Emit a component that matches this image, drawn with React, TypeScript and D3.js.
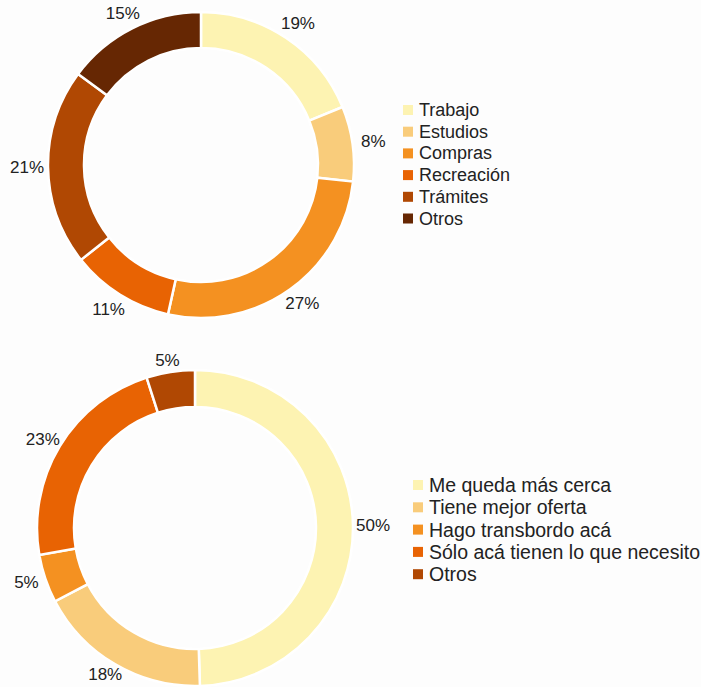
import React from "react";
import * as d3 from "d3";

const motivos = ["Trabajo", "Estudios", "Compras", "Recreación", "Trámites", "Otros"];
const motivosValues = [19, 8, 27, 11, 21, 15];
const motivosColors = ["#fdf3b2", "#f9cc7b", "#f49121", "#e86303", "#b04803", "#662703"];

const razones = ["Me queda más cerca", "Tiene mejor oferta", "Hago transbordo acá", "Sólo acá tienen lo que necesito", "Otros"];
const razonesValues = [50, 18, 5, 23, 5];
const razonesColors = ["#fdf3b2", "#f9cc7b", "#f49121", "#e86303", "#b04803"];

type DonutProps = {
  cx: number; cy: number; inner: number; outer: number; labelRx: number; labelRy: number;
  labels: string[]; values: number[]; colors: string[];
  legendX: number; legendY: number; legendStep: number; legendFont: number; clipW: number; id: string;
};

function Donut(p: DonutProps) {
  const pie = d3.pie<number>().sort(null).value((d) => d)(p.values);
  const arc = d3.arc<d3.PieArcDatum<number>>().innerRadius(p.inner).outerRadius(p.outer);
  return (
    <g>
      <defs>
        <clipPath id={p.id}>
          <rect x={0} y={0} width={p.clipW} height={687} />
        </clipPath>
      </defs>
      <g transform={`translate(${p.cx},${p.cy})`}>
        {pie.map((d, i) => (
          <path key={i} d={arc(d) || ""} fill={p.colors[i]} stroke="#fff" strokeWidth={2.5} />
        ))}
        {pie.map((d, i) => {
          const a = (d.startAngle + d.endAngle) / 2;
          const x = p.labelRx * Math.sin(a);
          const y = -p.labelRy * Math.cos(a);
          return (
            <text key={"t" + i} x={x} y={y} textAnchor="middle" dominantBaseline="central"
              fontSize={17} fill="#222" fontFamily="Liberation Sans, Arial, sans-serif">
              {p.values[i]}%
            </text>
          );
        })}
      </g>
      <g clipPath={`url(#${p.id})`}>
        {p.labels.map((l, i) => (
          <g key={l} transform={`translate(${p.legendX},${p.legendY + i * p.legendStep})`}>
            <rect x={0} y={-5} width={10} height={10} fill={p.colors[i]} />
            <text x={16} y={0} dominantBaseline="central" fontSize={p.legendFont} fill="#222"
              fontFamily="Liberation Sans, Arial, sans-serif">{l}</text>
          </g>
        ))}
      </g>
    </g>
  );
}

export default function App() {
  return (
    <svg width={701} height={687} style={{ position: "absolute", left: 0, top: 0, background: "#fdfdfd" }}>
      <Donut id="c1" cx={201} cy={165} inner={117} outer={153} labelRx={174} labelRy={170}
        labels={motivos} values={motivosValues} colors={motivosColors}
        legendX={403} legendY={110} legendStep={21.7} legendFont={18} clipW={513} />
      <Donut id="c2" cx={195} cy={528} inner={121} outer={158} labelRx={178} labelRy={170}
        labels={razones} values={razonesValues} colors={razonesColors}
        legendX={413} legendY={485} legendStep={22.3} legendFont={19.5} clipW={701} />
    </svg>
  );
}
